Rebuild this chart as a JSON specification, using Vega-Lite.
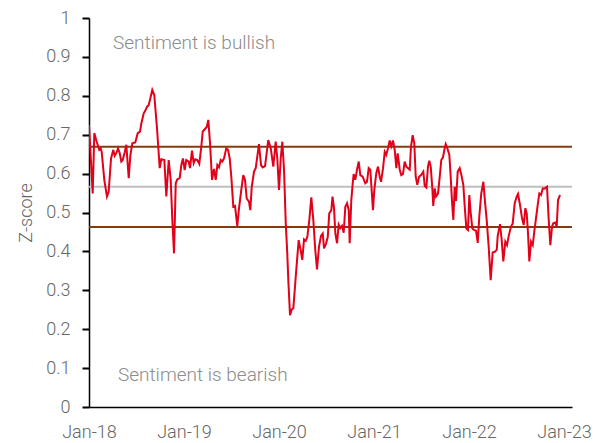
{
  "$schema": "https://vega.github.io/schema/vega-lite/v6.json",
  "width": 483,
  "height": 389,
  "autosize": {"type": "none"},
  "padding": {"left": 89, "top": 18, "right": 33, "bottom": 36},
  "background": "white",
  "config": {
    "view": {"stroke": null},
    "font": "Roboto",
    "axis": {"grid": false, "domainColor": "black", "domainWidth": 1.5, "labelColor": "#666666", "labelFont": "Roboto", "labelFontWeight": 300, "labelFontSize": 18, "titleFont": "Roboto", "titleFontWeight": 300, "titleColor": "#666666"},
    "axisY": {"labelOverlap": false, "ticks": true, "tickColor": "#000000", "tickSize": 7, "tickWidth": 2, "labelPadding": 12, "titleFontSize": 18, "titlePadding": 10},
    "axisX": {"ticks": false, "labelPadding": 16, "labelFlush": false, "labelOverlap": false}
  },
  "datasets": {
    "series": [
    {"t": 2018.000, "v": 0.725}, {"t": 2018.039, "v": 0.549}, {"t": 2018.056, "v": 0.704}, {"t": 2018.081, "v": 0.682},
    {"t": 2018.108, "v": 0.661}, {"t": 2018.123, "v": 0.665}, {"t": 2018.134, "v": 0.655}, {"t": 2018.161, "v": 0.584},
    {"t": 2018.189, "v": 0.541}, {"t": 2018.207, "v": 0.553}, {"t": 2018.232, "v": 0.639}, {"t": 2018.256, "v": 0.661},
    {"t": 2018.271, "v": 0.646}, {"t": 2018.292, "v": 0.655}, {"t": 2018.305, "v": 0.665}, {"t": 2018.323, "v": 0.653},
    {"t": 2018.340, "v": 0.631}, {"t": 2018.355, "v": 0.635}, {"t": 2018.376, "v": 0.655}, {"t": 2018.393, "v": 0.674},
    {"t": 2018.418, "v": 0.588}, {"t": 2018.435, "v": 0.646}, {"t": 2018.456, "v": 0.678}, {"t": 2018.487, "v": 0.680},
    {"t": 2018.513, "v": 0.704}, {"t": 2018.537, "v": 0.708}, {"t": 2018.551, "v": 0.729}, {"t": 2018.576, "v": 0.755},
    {"t": 2018.593, "v": 0.762}, {"t": 2018.611, "v": 0.772}, {"t": 2018.628, "v": 0.776}, {"t": 2018.645, "v": 0.793},
    {"t": 2018.666, "v": 0.815}, {"t": 2018.687, "v": 0.802}, {"t": 2018.716, "v": 0.716}, {"t": 2018.744, "v": 0.614},
    {"t": 2018.761, "v": 0.637}, {"t": 2018.793, "v": 0.635}, {"t": 2018.814, "v": 0.541}, {"t": 2018.839, "v": 0.635},
    {"t": 2018.860, "v": 0.584}, {"t": 2018.877, "v": 0.481}, {"t": 2018.895, "v": 0.395}, {"t": 2018.913, "v": 0.575},
    {"t": 2018.929, "v": 0.585}, {"t": 2018.955, "v": 0.589}, {"t": 2018.972, "v": 0.622}, {"t": 2018.989, "v": 0.639},
    {"t": 2019.007, "v": 0.609}, {"t": 2019.024, "v": 0.635}, {"t": 2019.049, "v": 0.631}, {"t": 2019.063, "v": 0.614},
    {"t": 2019.084, "v": 0.659}, {"t": 2019.102, "v": 0.627}, {"t": 2019.119, "v": 0.637}, {"t": 2019.140, "v": 0.635},
    {"t": 2019.161, "v": 0.625}, {"t": 2019.182, "v": 0.669}, {"t": 2019.197, "v": 0.708}, {"t": 2019.218, "v": 0.714},
    {"t": 2019.239, "v": 0.720}, {"t": 2019.256, "v": 0.738}, {"t": 2019.274, "v": 0.678}, {"t": 2019.295, "v": 0.584},
    {"t": 2019.316, "v": 0.612}, {"t": 2019.334, "v": 0.584}, {"t": 2019.351, "v": 0.622}, {"t": 2019.368, "v": 0.616},
    {"t": 2019.386, "v": 0.635}, {"t": 2019.403, "v": 0.631}, {"t": 2019.421, "v": 0.639}, {"t": 2019.445, "v": 0.665},
    {"t": 2019.463, "v": 0.661}, {"t": 2019.481, "v": 0.639}, {"t": 2019.498, "v": 0.592}, {"t": 2019.519, "v": 0.515},
    {"t": 2019.537, "v": 0.517}, {"t": 2019.561, "v": 0.465}, {"t": 2019.579, "v": 0.511}, {"t": 2019.603, "v": 0.558},
    {"t": 2019.624, "v": 0.596}, {"t": 2019.642, "v": 0.584}, {"t": 2019.660, "v": 0.536}, {"t": 2019.684, "v": 0.528},
    {"t": 2019.698, "v": 0.506}, {"t": 2019.713, "v": 0.566}, {"t": 2019.737, "v": 0.605}, {"t": 2019.755, "v": 0.614},
    {"t": 2019.789, "v": 0.676}, {"t": 2019.811, "v": 0.622}, {"t": 2019.828, "v": 0.616}, {"t": 2019.853, "v": 0.619},
    {"t": 2019.887, "v": 0.686}, {"t": 2019.913, "v": 0.665}, {"t": 2019.940, "v": 0.618}, {"t": 2019.965, "v": 0.682},
    {"t": 2019.982, "v": 0.639}, {"t": 2020.000, "v": 0.558}, {"t": 2020.018, "v": 0.639}, {"t": 2020.035, "v": 0.682},
    {"t": 2020.053, "v": 0.609}, {"t": 2020.071, "v": 0.472}, {"t": 2020.087, "v": 0.395}, {"t": 2020.098, "v": 0.326},
    {"t": 2020.116, "v": 0.236}, {"t": 2020.134, "v": 0.251}, {"t": 2020.151, "v": 0.254}, {"t": 2020.179, "v": 0.344},
    {"t": 2020.207, "v": 0.429}, {"t": 2020.228, "v": 0.403}, {"t": 2020.245, "v": 0.378}, {"t": 2020.263, "v": 0.431},
    {"t": 2020.281, "v": 0.427}, {"t": 2020.298, "v": 0.437}, {"t": 2020.319, "v": 0.481}, {"t": 2020.340, "v": 0.539},
    {"t": 2020.361, "v": 0.481}, {"t": 2020.382, "v": 0.403}, {"t": 2020.400, "v": 0.354}, {"t": 2020.421, "v": 0.412},
    {"t": 2020.442, "v": 0.440}, {"t": 2020.460, "v": 0.446}, {"t": 2020.474, "v": 0.408}, {"t": 2020.495, "v": 0.420},
    {"t": 2020.513, "v": 0.437}, {"t": 2020.529, "v": 0.498}, {"t": 2020.551, "v": 0.506}, {"t": 2020.563, "v": 0.541},
    {"t": 2020.579, "v": 0.512}, {"t": 2020.593, "v": 0.446}, {"t": 2020.611, "v": 0.421}, {"t": 2020.628, "v": 0.469},
    {"t": 2020.645, "v": 0.460}, {"t": 2020.663, "v": 0.466}, {"t": 2020.681, "v": 0.448}, {"t": 2020.698, "v": 0.515},
    {"t": 2020.716, "v": 0.524}, {"t": 2020.734, "v": 0.506}, {"t": 2020.744, "v": 0.421}, {"t": 2020.761, "v": 0.532},
    {"t": 2020.776, "v": 0.575}, {"t": 2020.786, "v": 0.599}, {"t": 2020.803, "v": 0.584}, {"t": 2020.821, "v": 0.610},
    {"t": 2020.839, "v": 0.631}, {"t": 2020.856, "v": 0.596}, {"t": 2020.881, "v": 0.592}, {"t": 2020.908, "v": 0.575},
    {"t": 2020.926, "v": 0.579}, {"t": 2020.944, "v": 0.614}, {"t": 2020.961, "v": 0.610}, {"t": 2020.989, "v": 0.506},
    {"t": 2021.003, "v": 0.558}, {"t": 2021.024, "v": 0.601}, {"t": 2021.042, "v": 0.618}, {"t": 2021.060, "v": 0.592},
    {"t": 2021.074, "v": 0.579}, {"t": 2021.095, "v": 0.614}, {"t": 2021.113, "v": 0.656}, {"t": 2021.129, "v": 0.648},
    {"t": 2021.147, "v": 0.665}, {"t": 2021.165, "v": 0.685}, {"t": 2021.182, "v": 0.670}, {"t": 2021.200, "v": 0.685},
    {"t": 2021.218, "v": 0.661}, {"t": 2021.235, "v": 0.614}, {"t": 2021.249, "v": 0.652}, {"t": 2021.271, "v": 0.610},
    {"t": 2021.287, "v": 0.596}, {"t": 2021.305, "v": 0.599}, {"t": 2021.323, "v": 0.631}, {"t": 2021.340, "v": 0.618},
    {"t": 2021.358, "v": 0.614}, {"t": 2021.376, "v": 0.610}, {"t": 2021.389, "v": 0.669}, {"t": 2021.407, "v": 0.699},
    {"t": 2021.424, "v": 0.678}, {"t": 2021.439, "v": 0.592}, {"t": 2021.456, "v": 0.571}, {"t": 2021.474, "v": 0.592},
    {"t": 2021.498, "v": 0.597}, {"t": 2021.519, "v": 0.605}, {"t": 2021.534, "v": 0.568}, {"t": 2021.551, "v": 0.564},
    {"t": 2021.568, "v": 0.618}, {"t": 2021.582, "v": 0.633}, {"t": 2021.597, "v": 0.618}, {"t": 2021.614, "v": 0.562},
    {"t": 2021.624, "v": 0.517}, {"t": 2021.639, "v": 0.562}, {"t": 2021.653, "v": 0.541}, {"t": 2021.674, "v": 0.549},
    {"t": 2021.692, "v": 0.592}, {"t": 2021.708, "v": 0.635}, {"t": 2021.726, "v": 0.642}, {"t": 2021.744, "v": 0.665},
    {"t": 2021.755, "v": 0.676}, {"t": 2021.772, "v": 0.665}, {"t": 2021.793, "v": 0.648}, {"t": 2021.807, "v": 0.592},
    {"t": 2021.821, "v": 0.528}, {"t": 2021.835, "v": 0.481}, {"t": 2021.849, "v": 0.566}, {"t": 2021.863, "v": 0.530},
    {"t": 2021.881, "v": 0.605}, {"t": 2021.902, "v": 0.614}, {"t": 2021.919, "v": 0.597}, {"t": 2021.940, "v": 0.571},
    {"t": 2021.955, "v": 0.515}, {"t": 2021.972, "v": 0.459}, {"t": 2021.989, "v": 0.455}, {"t": 2022.003, "v": 0.545},
    {"t": 2022.018, "v": 0.498}, {"t": 2022.035, "v": 0.459}, {"t": 2022.053, "v": 0.455}, {"t": 2022.074, "v": 0.453},
    {"t": 2022.092, "v": 0.422}, {"t": 2022.108, "v": 0.489}, {"t": 2022.129, "v": 0.549}, {"t": 2022.151, "v": 0.579},
    {"t": 2022.168, "v": 0.528}, {"t": 2022.186, "v": 0.481}, {"t": 2022.207, "v": 0.412}, {"t": 2022.228, "v": 0.326},
    {"t": 2022.249, "v": 0.397}, {"t": 2022.271, "v": 0.399}, {"t": 2022.292, "v": 0.404}, {"t": 2022.302, "v": 0.440},
    {"t": 2022.326, "v": 0.470}, {"t": 2022.344, "v": 0.429}, {"t": 2022.361, "v": 0.374}, {"t": 2022.382, "v": 0.425},
    {"t": 2022.400, "v": 0.416}, {"t": 2022.418, "v": 0.440}, {"t": 2022.442, "v": 0.464}, {"t": 2022.460, "v": 0.472},
    {"t": 2022.481, "v": 0.524}, {"t": 2022.502, "v": 0.541}, {"t": 2022.516, "v": 0.548}, {"t": 2022.537, "v": 0.519},
    {"t": 2022.558, "v": 0.485}, {"t": 2022.576, "v": 0.468}, {"t": 2022.593, "v": 0.511}, {"t": 2022.607, "v": 0.498},
    {"t": 2022.621, "v": 0.446}, {"t": 2022.635, "v": 0.374}, {"t": 2022.653, "v": 0.425}, {"t": 2022.671, "v": 0.416},
    {"t": 2022.687, "v": 0.451}, {"t": 2022.705, "v": 0.485}, {"t": 2022.723, "v": 0.519}, {"t": 2022.740, "v": 0.549},
    {"t": 2022.758, "v": 0.545}, {"t": 2022.776, "v": 0.562}, {"t": 2022.800, "v": 0.562}, {"t": 2022.821, "v": 0.566},
    {"t": 2022.839, "v": 0.481}, {"t": 2022.856, "v": 0.416}, {"t": 2022.874, "v": 0.464}, {"t": 2022.887, "v": 0.472},
    {"t": 2022.908, "v": 0.474}, {"t": 2022.923, "v": 0.464}, {"t": 2022.937, "v": 0.532}, {"t": 2022.958, "v": 0.545}
    ],
    "single": [{}]
  },
  "encoding": {
    "y": {"type": "quantitative", "scale": {"domain": [0, 1], "nice": false},
      "axis": {"values": [0, 0.1, 0.2, 0.3, 0.4, 0.5, 0.6, 0.7, 0.8, 0.9, 1], "format": ".1~f", "labelOverlap": false, "ticks": true, "tickColor": "#000000", "tickSize": 7, "tickWidth": 2, "labelPadding": 12, "title": "Z-score", "titleFontSize": 18, "titlePadding": 10}}
  },
  "layer": [
    {
      "data": {"name": "single"},
      "mark": {"type": "rule", "color": "#843C0C", "strokeWidth": 2},
      "encoding": {"y": {"datum": 0.669, "type": "quantitative"}}
    },
    {
      "data": {"name": "single"},
      "mark": {"type": "rule", "color": "#BFBFBF", "strokeWidth": 2},
      "encoding": {"y": {"datum": 0.566, "type": "quantitative"}}
    },
    {
      "data": {"name": "single"},
      "mark": {"type": "rule", "color": "#843C0C", "strokeWidth": 2},
      "encoding": {"y": {"datum": 0.463, "type": "quantitative"}}
    },
    {
      "data": {"name": "series"},
      "mark": {"type": "line", "color": "#E2001A", "strokeWidth": 2, "clip": true},
      "encoding": {
        "x": {"field": "t", "type": "quantitative", "scale": {"domain": [2018, 2023.084], "nice": false, "zero": false},
          "axis": {"values": [2018, 2019, 2020, 2021, 2022, 2023], "labelExpr": "'Jan-' + substring(toString(datum.value), 2, 4)", "ticks": false, "labelPadding": 16, "title": null, "labelFlush": false, "labelOverlap": false}},
        "y": {"field": "v", "type": "quantitative"}
      }
    },
    {
      "data": {"name": "single"},
      "mark": {"type": "text", "text": "Sentiment is bullish", "align": "left", "baseline": "middle", "fontSize": 19, "font": "Roboto", "fontWeight": 300, "color": "#8C8C8C"},
      "encoding": {"x": {"datum": 2018.253, "type": "quantitative"}, "y": {"datum": 0.936, "type": "quantitative"}}
    },
    {
      "data": {"name": "single"},
      "mark": {"type": "text", "text": "Sentiment is bearish", "align": "left", "baseline": "middle", "fontSize": 19, "font": "Roboto", "fontWeight": 300, "color": "#8C8C8C"},
      "encoding": {"x": {"datum": 2018.305, "type": "quantitative"}, "y": {"datum": 0.082, "type": "quantitative"}}
    }
  ]
}
